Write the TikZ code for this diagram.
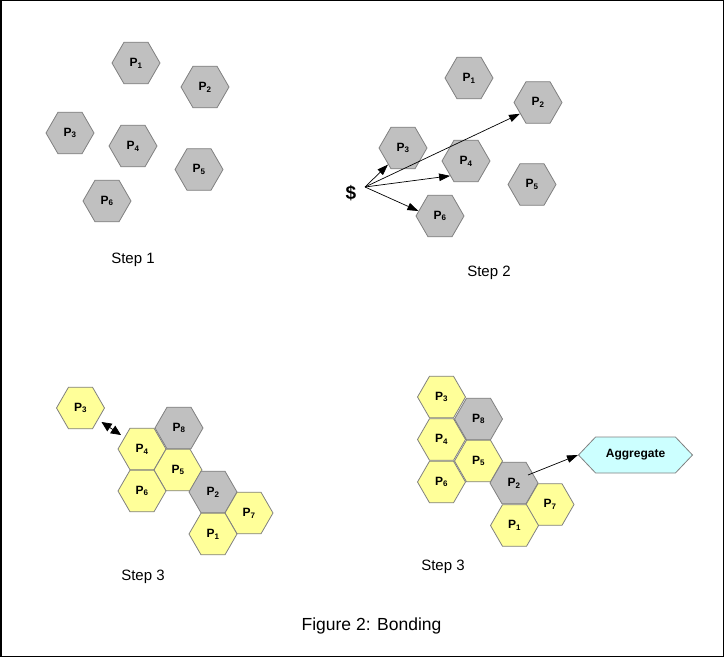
\documentclass[tikz,border=0pt]{standalone}
\usepackage{fontspec}
\setmainfont{Liberation Sans}
\usetikzlibrary{shapes.geometric,shapes.symbols,arrows.meta}
\definecolor{hexgray}{HTML}{C0C0C0}
\definecolor{hexyel}{HTML}{FFFF99}
\definecolor{hexline}{HTML}{808080}
\definecolor{aggcyan}{HTML}{CCFFFF}
\begin{document}
\begin{tikzpicture}[x=1pt,y=-1pt,
  hexa/.style={regular polygon,regular polygon sides=6,minimum size=48pt,inner sep=0pt,draw=hexline,line width=0.8pt,font=\fontsize{12}{14}\selectfont\bfseries},
  gp/.style={hexa,fill=hexgray},
  yp/.style={hexa,fill=hexyel},
  arr/.style={-{Triangle[length=11pt,width=7.5pt]},line width=0.7pt},
  dblarr/.style={{Triangle[length=10pt,width=9pt]}-{Triangle[length=10pt,width=9pt]},line width=0.7pt,shorten >=4pt,shorten <=4pt},
  steplbl/.style={font=\fontsize{15}{18}\selectfont}]
\useasboundingbox (0,0) rectangle (725,658);
\draw[line width=1.5pt] (0.75,0.75) rectangle (723.5,656.5);

% Step 1
\node[gp] (a1) at (136,63) {P\textsubscript{1}};
\node[gp] (a2) at (205,87) {P\textsubscript{2}};
\node[gp] (a3) at (70,133) {P\textsubscript{3}};
\node[gp] (a4) at (133,146) {P\textsubscript{4}};
\node[gp] (a5) at (199,169.5) {P\textsubscript{5}};
\node[gp] (a6) at (107,201) {P\textsubscript{6}};
\node[steplbl] (s1) at (133,260) {Step 1};

% Step 2
\node[gp] (b1) at (469,78) {P\textsubscript{1}};
\node[gp] (b2) at (538,102.5) {P\textsubscript{2}};
\node[gp] (b3) at (403,148) {P\textsubscript{3}};
\node[gp] (b4) at (466,161) {P\textsubscript{4}};
\node[gp] (b5) at (532,184.5) {P\textsubscript{5}};
\node[gp] (b6) at (440,216) {P\textsubscript{6}};
\node[font=\fontsize{19}{22}\selectfont\bfseries] (dol) at (351,193) {\$};
\coordinate (src) at (365,187);
\draw[arr] (src) -- (b3.228);
\draw[arr] (src) -- (b2.212);
\draw[arr] (src) -- (b4.223);
\draw[arr] (src) -- (b6.167);
\node[steplbl] (s2) at (489,273) {Step 2};

% Step 3 left
\node[yp] (c3) at (80.5,408) {P\textsubscript{3}};
\node[gp] (c8) at (179,428) {P\textsubscript{8}};
\node[yp] (c4) at (142,449) {P\textsubscript{4}};
\node[yp] (c5) at (178,470) {P\textsubscript{5}};
\node[yp] (c6) at (142,491) {P\textsubscript{6}};
\node[gp] (c2) at (213,492) {P\textsubscript{2}};
\node[yp] (c7) at (249,513) {P\textsubscript{7}};
\node[yp] (c1) at (213,534) {P\textsubscript{1}};
\draw[dblarr] (c3) -- (c4);
\node[steplbl] (s3) at (143,577) {Step 3};

% Step 3 right
\node[yp] (d3) at (441.5,397) {P\textsubscript{3}};
\node[gp] (d8) at (478.5,419) {P\textsubscript{8}};
\node[yp] (d4) at (441.5,439.5) {P\textsubscript{4}};
\node[yp] (d5) at (478.5,461) {P\textsubscript{5}};
\node[yp] (d6) at (441.5,482) {P\textsubscript{6}};
\node[gp] (d2) at (514,483) {P\textsubscript{2}};
\node[yp] (d7) at (550,504.5) {P\textsubscript{7}};
\node[yp] (d1) at (514.5,525.5) {P\textsubscript{1}};
\node[signal,signal to=east and west,signal pointer angle=93,minimum width=114pt,minimum height=36pt,inner sep=0pt,fill=aggcyan,draw=hexline,line width=0.8pt,font=\fontsize{12}{14}\selectfont\bfseries] (agg) at (635.5,455) {Aggregate};
\coordinate (p2s) at (528,475);
\draw[arr] (p2s) -- (agg.west);
\node[steplbl] (s4) at (443,567) {Step 3};

\node[font=\fontsize{17.5}{21}\selectfont] (fig) at (371.5,626) {Figure 2: Bonding};
\end{tikzpicture}
\end{document}
